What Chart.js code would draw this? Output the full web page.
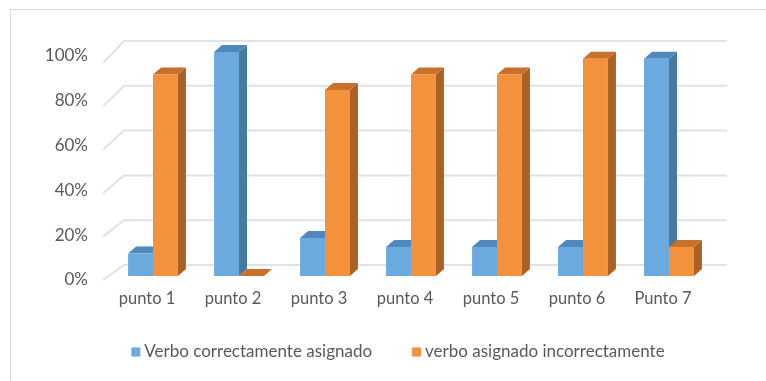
<!DOCTYPE html>
<html>
<head>
<meta charset="utf-8">
<script src="https://cdn.jsdelivr.net/npm/chart.js@4"></script>
<style>
  html, body { margin: 0; padding: 0; background: #fff; }
  #wrap { position: relative; width: 766px; height: 381px; overflow: hidden; }
  #frame { position: absolute; left: 10px; top: 9px; width: 800px; height: 400px; border: 1px solid #d9d9d9; }
  #chart { position: absolute; left: 0; top: 0; }
</style>
</head>
<body>
<div id="wrap">
  <div id="frame"></div>
  <canvas id="chart" width="766" height="381"></canvas>
</div>
<script>
const categories = ["punto 1", "punto 2", "punto 3", "punto 4", "punto 5", "punto 6", "Punto 7"];
const correcto = [10, 100, 17, 13, 13, 13, 97];
const incorrecto = [90, 0, 83, 90, 90, 97, 13];
const seriesNames = ["Verbo correctamente asignado", "verbo asignado incorrectamente"];

const FONT = "Lato, 'Open Sans', sans-serif";
const TEXT = "#595959";
const shades = [
  { front: "#6aaadf", top: "#4f88bd", side: "#467a9f" },
  { front: "#f4913c", top: "#c8702c", side: "#a96126" },
];
const dx = 8, dy = 7;

// back wall gridlines + side/top faces of the bars
const threeD = {
  id: "threeD",
  beforeDatasetsDraw(chart) {
    const ctx = chart.ctx;
    const y = chart.scales.y;
    const area = chart.chartArea;
    const lastBars = chart.getDatasetMeta(1).data;
    const lastBar = lastBars[lastBars.length - 1];
    const wallRight = lastBar.x + lastBar.width / 2 + 33;
    ctx.save();
    ctx.strokeStyle = "#e2e2e2";
    ctx.lineWidth = 2;
    y.ticks.forEach((t) => {
      const py = y.getPixelForValue(t.value);
      ctx.beginPath();
      ctx.moveTo(area.left - 7, py + 4 + t.value * 0.07);
      ctx.lineTo(area.left + 14, py - 11);
      ctx.lineTo(wallRight, py - 11);
      ctx.stroke();
    });

    chart.data.datasets.forEach((ds, i) => {
      chart.getDatasetMeta(i).data.forEach((bar) => {
        const { x, y: top, base, width } = bar.getProps(["x", "y", "base", "width"], true);
        const l = x - width / 2, r = x + width / 2;
        ctx.fillStyle = shades[i].side;
        ctx.beginPath();
        ctx.moveTo(r, top);
        ctx.lineTo(r + dx, top - dy);
        ctx.lineTo(r + dx, base - dy);
        ctx.lineTo(r, base);
        ctx.closePath();
        ctx.fill();
        ctx.fillStyle = shades[i].top;
        ctx.beginPath();
        ctx.moveTo(l, top);
        ctx.lineTo(l + dx, top - dy);
        ctx.lineTo(r + dx, top - dy);
        ctx.lineTo(r, top);
        ctx.closePath();
        ctx.fill();
      });
    });
    ctx.restore();
  },
  afterDraw(chart) {
    // legend
    const ctx = chart.ctx;
    ctx.save();
    ctx.font = "17px " + FONT;
    ctx.textBaseline = "middle";
    const box = 9, gap = 4, spacing = 40;
    const widths = chart.data.datasets.map((ds) => box + gap + ctx.measureText(ds.label).width);
    const total = widths.reduce((a, b) => a + b, 0) + spacing * (widths.length - 1);
    let x = 398 - total / 2;
    const cy = 352;
    chart.data.datasets.forEach((ds, i) => {
      ctx.fillStyle = ds.backgroundColor;
      ctx.fillRect(x, cy - box / 2, box, box);
      ctx.fillStyle = TEXT;
      ctx.fillText(ds.label, x + box + gap, cy);
      x += widths[i] + spacing;
    });
    ctx.restore();
  },
};

new Chart(document.getElementById("chart"), {
  type: "bar",
  data: {
    labels: categories,
    datasets: [
      { label: seriesNames[0], data: correcto, backgroundColor: shades[0].front },
      { label: seriesNames[1], data: incorrecto, backgroundColor: shades[1].front },
    ],
  },
  options: {
    responsive: false,
    animation: false,
    devicePixelRatio: 1,
    categoryPercentage: 0.58,
    barPercentage: 1,
    layout: { padding: { top: 52, right: 54, bottom: 0, left: 0 } },
    plugins: { legend: { display: false }, tooltip: { enabled: false } },
    scales: {
      x: {
        grid: { display: false, drawTicks: false },
        border: { display: false },
        ticks: { color: TEXT, font: { family: FONT, size: 16.5 }, padding: 13, labelOffset: -6 },
        afterFit(scale) { scale.height = 105; },
      },
      y: {
        min: 0,
        max: 100,
        grid: { display: false, drawTicks: false },
        border: { display: false },
        ticks: {
          stepSize: 20,
          color: TEXT,
          font: { family: FONT, size: 17 },
          padding: 22,
          labelOffset: 4,
          callback: (v) => v + "%",
        },
        afterFit(scale) { scale.width = 110; },
      },
    },
  },
  plugins: [threeD],
});
</script>
</body>
</html>
